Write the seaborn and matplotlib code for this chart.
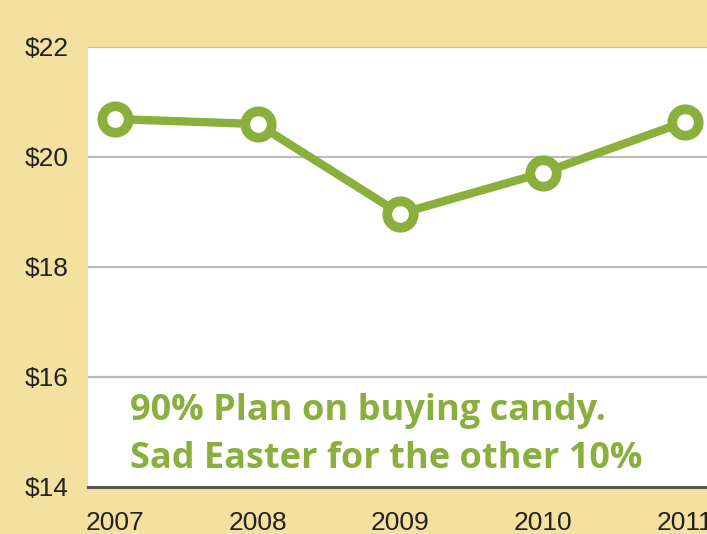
import matplotlib
matplotlib.use("Agg")
import matplotlib.pyplot as plt
import seaborn as sns
import pandas as pd

years = [2007, 2008, 2009, 2010, 2011]
spend = [20.69, 20.6, 18.97, 19.71, 20.64]
ytick_vals = [14, 16, 18, 20, 22]
ytick_labels = ["$14", "$16", "$18", "$20", "$22"]
note_lines = ["90% Plan on buying candy.", "Sad Easter for the other 10%"]

df = pd.DataFrame({"year": years, "spend": spend})

sns.set_style("white")
plt.rcParams["font.family"] = ["Liberation Sans", "DejaVu Sans"]

bg = "#F5E19F"
green = "#8BAF3C"

fig = plt.figure(figsize=(7.07, 5.34), dpi=100, facecolor=bg)
ax = fig.add_axes([88/707, 1-487/534, 1-88/707, (487-47)/534])
ax.set_facecolor("white")

sns.lineplot(data=df, x="year", y="spend", ax=ax, color=green, linewidth=6,
             marker="o", markersize=19, markeredgewidth=7,
             markerfacecolor="white", markeredgecolor=green, zorder=5, clip_on=False)

ax.set_xlim(2007 - 27/142.5, 2011 + 22/142.5)
ax.set_ylim(14, 22)
ax.set_yticks(ytick_vals)
ax.set_yticklabels(ytick_labels)
ax.set_xticks(years)
ax.set_xticklabels([str(y) for y in years])
ax.set_xlabel("")
ax.set_ylabel("")

for v in [16, 18, 20, 22]:
    ax.axhline(v, color="#BDBDBD", linewidth=1.6, zorder=1)

for s in ["left", "right", "top"]:
    ax.spines[s].set_visible(False)
ax.spines["bottom"].set_color("#555555")
ax.spines["bottom"].set_linewidth(2.2)

ax.tick_params(axis="both", length=0, labelsize=19, colors="#222222")
ax.tick_params(axis="y", pad=14)
ax.tick_params(axis="x", pad=17)

ax.text(2007.105, 15.38, note_lines[0], color=green, fontsize=26, fontweight="bold",
        family=["Open Sans", "DejaVu Sans"], va="center", ha="left", zorder=6)
ax.text(2007.105, 14.5, note_lines[1], color=green, fontsize=26, fontweight="bold",
        family=["Open Sans", "DejaVu Sans"], va="center", ha="left", zorder=6)

fig.savefig("out.png", dpi=100, facecolor=bg)
